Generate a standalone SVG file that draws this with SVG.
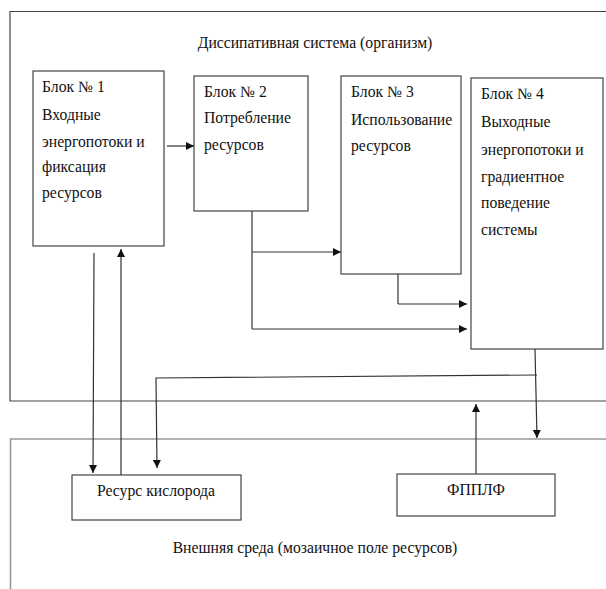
<svg xmlns="http://www.w3.org/2000/svg" width="606" height="589" viewBox="0 0 606 589">
<style>
.box{fill:#fff;stroke:#444;stroke-width:1.2}
.area{fill:none;stroke:#444;stroke-width:1.2}
.env{fill:none;stroke:#999;stroke-width:1.6}
.t{font-size:15.7px;fill:#111}
.c{stroke:#333;stroke-width:1.2;fill:none}
.a{marker-end:url(#ah)}
</style>
<defs>
<marker id="ah" viewBox="0 0 10 10" refX="10" refY="5" markerWidth="8" markerHeight="8" markerUnits="userSpaceOnUse" orient="auto">
<path d="M0,0 L10,5 L0,10 z" fill="#111"/>
</marker>
</defs>
<g font-family="Liberation Serif, DejaVu Serif, serif">
<g id="system">
<path class="area" d="M610,11.5 H10 V401 H610"/>
<text class="t" x="315" y="48" text-anchor="middle">Диссипативная система (организм)</text>
</g>
<g id="environment">
<path class="env" d="M610,439 H10.5 V589"/>
<text class="t" x="315" y="553" text-anchor="middle">Внешняя среда (мозаичное поле ресурсов)</text>
</g>
<g id="block1">
<rect class="box" x="33" y="71" width="131" height="175"/>
<text class="t" x="42" y="92">Блок № 1</text>
<text class="t" x="42" y="120">Входные</text>
<text class="t" x="42" y="147">энергопотоки и</text>
<text class="t" x="42" y="172">фиксация</text>
<text class="t" x="42" y="198">ресурсов</text>
</g>
<g id="block2">
<rect class="box" x="194" y="76" width="114" height="135"/>
<text class="t" x="204" y="97">Блок № 2</text>
<text class="t" x="204" y="123">Потребление</text>
<text class="t" x="204" y="150">ресурсов</text>
</g>
<g id="block3">
<rect class="box" x="341" y="76" width="120" height="198"/>
<text class="t" x="351" y="97">Блок № 3</text>
<text class="t" x="351" y="125">Использование</text>
<text class="t" x="351" y="151">ресурсов</text>
</g>
<g id="block4">
<rect class="box" x="471" y="78" width="132" height="271"/>
<text class="t" x="481" y="99">Блок № 4</text>
<text class="t" x="481" y="127">Выходные</text>
<text class="t" x="481" y="155">энергопотоки и</text>
<text class="t" x="481" y="182">градиентное</text>
<text class="t" x="481" y="208">поведение</text>
<text class="t" x="481" y="235">системы</text>
</g>
<g id="oxygen">
<rect class="box" x="72" y="475" width="169" height="45"/>
<text class="t" x="156" y="496" text-anchor="middle">Ресурс кислорода</text>
</g>
<g id="fpplf">
<rect class="box" x="397" y="474" width="158" height="42"/>
<text class="t" x="476" y="495" text-anchor="middle">ФППЛФ</text>
</g>
</g>
<g id="connectors">
<line class="c a" x1="167" y1="146" x2="194" y2="146"/>
<line class="c" x1="252" y1="211" x2="252" y2="329"/>
<line class="c a" x1="252" y1="252" x2="341" y2="252"/>
<line class="c a" x1="252" y1="329" x2="467" y2="329"/>
<line class="c" x1="398" y1="274" x2="398" y2="304"/>
<line class="c a" x1="398" y1="304" x2="467" y2="304"/>
<line class="c a" x1="94" y1="253" x2="93" y2="473"/>
<line class="c a" x1="121" y1="475" x2="121" y2="249"/>
<line class="c a" x1="535" y1="349" x2="537" y2="438"/>
<polyline class="c a" points="537,375 156,378 157,468"/>
<line class="c a" x1="476" y1="474" x2="476" y2="404"/>
</g>
</svg>
